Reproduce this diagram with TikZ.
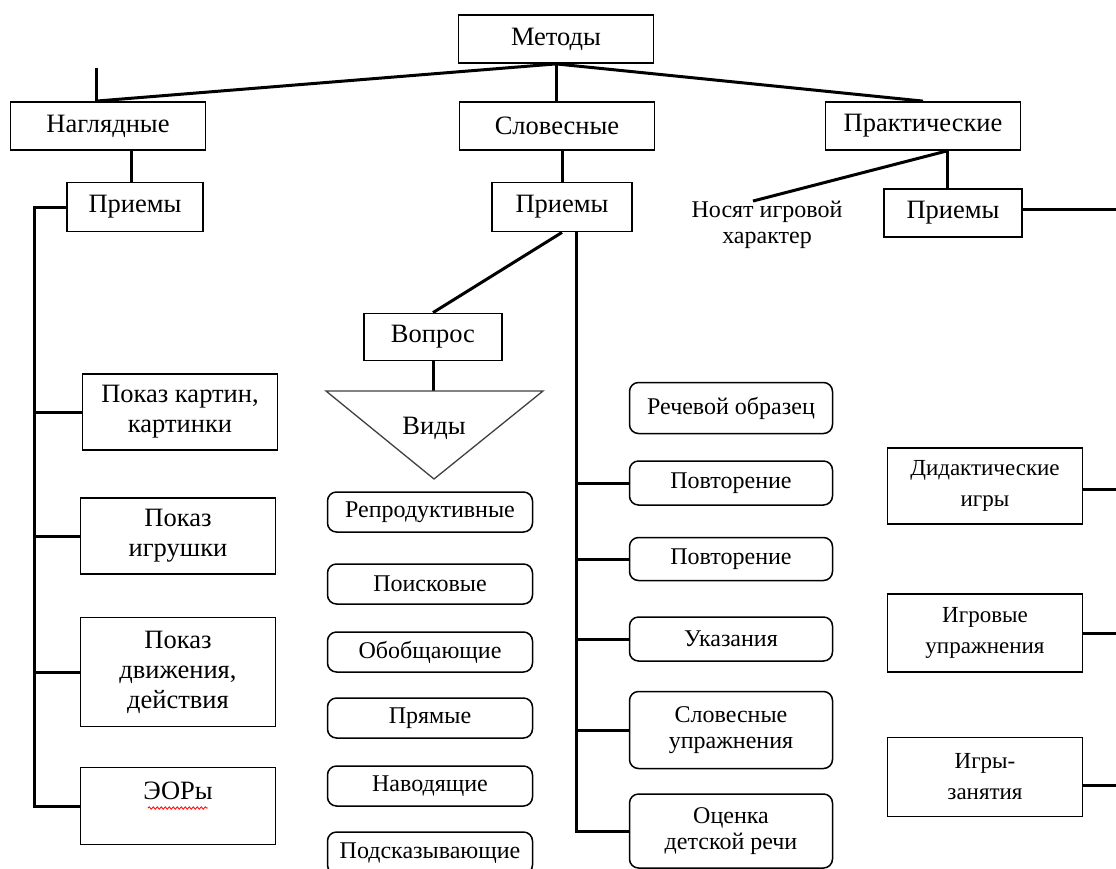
\documentclass[tikz,border=0pt]{standalone}
\usepackage{fontspec}
\setmainfont{Liberation Serif}
\usetikzlibrary{positioning, shapes.geometric, decorations.pathmorphing}

\begin{document}
\begin{tikzpicture}[x=1pt, y=-1pt, font=\fontsize{24}{26}\selectfont]
      \tikzstyle{box} = [rectangle, draw=black, line width=1.8pt, minimum width=195pt, minimum height=48pt, align=center, inner sep=2pt, font=\fontsize{26.5}{30}\selectfont]
      \tikzstyle{gamebox} = [box, font=\fontsize{23}{31}\selectfont]
      \tikzstyle{rbox} = [rectangle, rounded corners=9pt, draw=black, line width=1.5pt, minimum width=205pt, minimum height=40pt, align=center, inner sep=2pt]
      \tikzstyle{link} = [line width=3pt]

      \useasboundingbox (0,0) rectangle (1116,868);

      \node (metody) [box] at (556,39) {Методы};
      \node (nagl) [box] at (108,126) {Наглядные};
      \node (slov) [box] at (557,126) {Словесные};
      \node (prakt) [box] at (923,126) {Практические};

      \coordinate (stub) at (96,68);
      \draw [link] (stub) -- (stub |- nagl.north);
      \draw [link] (metody.south) -- (stub |- nagl.north);
      \draw [link] (metody.south) -- (metody.south |- slov.north);
      \draw [link] (metody.south) -- (prakt.north);

      \node (priemA) [box, minimum width=136pt, minimum height=49pt] at (135,207) {Приемы};
      \node (priemB) [box, minimum width=140pt, minimum height=49pt] at (562,207) {Приемы};
      \node (priemC) [box, minimum width=138pt] at (953,213) {Приемы};
      \node (nosyat) [align=center, inner sep=0pt] at (767,225) {Носят игровой\\характер};

      \draw [link] ([xshift=-4pt]priemA.north) -- ([xshift=-4pt]priemA.north |- nagl.south);
      \draw [link] (priemB.north) -- (priemB.north |- slov.south);
      \draw [link] ([xshift=-6pt]priemC.north) -- ([xshift=-6pt]priemC.north |- prakt.south);
      \draw [link] ([xshift=-6pt]priemC.north |- prakt.south) -- ([xshift=-14pt]nosyat.north);

      \node (kart) [box, minimum height=76pt] at (180,412) {Показ картин,\\картинки};
      \node (igr) [box, minimum height=76pt] at (178,536) {Показ\\игрушки};
      \node (dvizh) [box, minimum height=109pt] at (178,672) {Показ\\движения,\\действия};
      \node (eor) [box, minimum height=77pt] at (178,806) {ЭОРы\\~};
      \draw [red, line width=0.8pt, decorate, decoration={snake, amplitude=1.2pt, segment length=4pt}] (148,808) -- (208,808);

      \coordinate (busA) at (34,0);
      \draw [link] (priemA.west) -- (priemA.west -| busA) |- (eor.west);
      \draw [link] (kart.west) -- (kart.west -| busA);
      \draw [link] (igr.west) -- (igr.west -| busA);
      \draw [link] (dvizh.west) -- (dvizh.west -| busA);

      \node (vopros) [box, minimum width=138pt, minimum height=47pt] at (433,337) {Вопрос};
      \draw [link] (priemB.south) -- (vopros.north);
      \coordinate (vidytop) at (433,391);
      \draw [link] (vopros.south) -- (vopros.south |- vidytop);
      \draw [line width=1.3pt, black!75] (326,391) -- (543,391) -- (434,479) -- cycle;
      \node (vidy) [font=\fontsize{26.5}{30}\selectfont] at (434,428) {Виды};

      \node (repro) [rbox] at (430,512) {Репродуктивные};
      \node (poisk) [rbox] at (430,584) {Поисковые};
      \node (obob) [rbox] at (430,652) {Обобщающие};
      \node (pryam) [rbox] at (430,718) {Прямые};
      \node (navod) [rbox] at (430,786) {Наводящие};
      \node (podsk) [rbox, minimum height=42pt] at (430,853) {Подсказывающие};

      \node (rech) [rbox, minimum width=203pt, minimum height=51pt] at (731,408) {Речевой образец};
      \node (povtA) [rbox, minimum width=203pt, minimum height=44pt] at (731,483) {Повторение};
      \node (povtB) [rbox, minimum width=203pt, minimum height=43pt] at (731,559) {Повторение};
      \node (ukaz) [rbox, minimum width=203pt, minimum height=44pt] at (731,639) {Указания};
      \node (slovupr) [rbox, minimum width=203pt, minimum height=77pt] at (731,730) {Словесные\\упражнения};
      \node (ocenka) [rbox, minimum width=203pt, minimum height=74pt] at (731,831) {Оценка\\детской речи};

      \coordinate (busB) at (576,0);
      \draw [link] (priemB.south -| busB) |- (ocenka.west);
      \draw [link] (povtA.west) -- (povtA.west -| busB);
      \draw [link] (povtB.west) -- (povtB.west -| busB);
      \draw [link] (ukaz.west) -- (ukaz.west -| busB);
      \draw [link] (slovupr.west) -- (slovupr.west -| busB);

      \node (didakt) [gamebox, minimum height=76pt] at (985,486) {Дидактические\\игры};
      \node (igrupr) [gamebox, minimum height=78pt] at (985,633) {Игровые\\упражнения};
      \node (igryzan) [gamebox, minimum height=79pt] at (985,777) {Игры-\\занятия};

      \coordinate (rim) at (1116,0);
      \draw [link] ([yshift=4pt]priemC.east) -- ([yshift=4pt]priemC.east -| rim);
      \draw [link] ([yshift=-3pt]didakt.east) -- ([yshift=-3pt]didakt.east -| rim);
      \draw [link] (igrupr.east) -- (igrupr.east -| rim);
      \draw [link] ([yshift=-8pt]igryzan.east) -- ([yshift=-8pt]igryzan.east -| rim);

    \end{tikzpicture}
\end{document}
